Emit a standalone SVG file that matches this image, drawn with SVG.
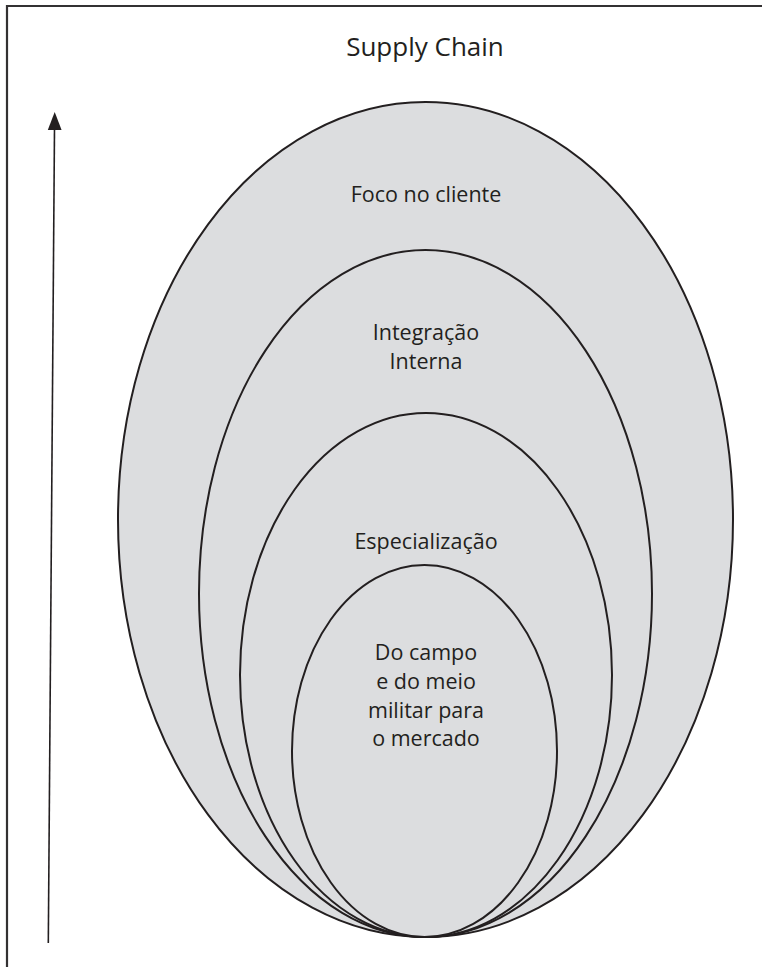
<svg xmlns="http://www.w3.org/2000/svg" width="762" height="967" viewBox="0 0 762 967">
<defs>
<style>
.frame{fill:none;stroke:#333132;stroke-width:2.2}
.ell{fill:#dcdddf;stroke:#231f20;stroke-width:2}
.lbl{font-family:"Open Sans","Liberation Sans",sans-serif;font-size:21.5px;fill:#231f20;text-anchor:middle}
.title{font-family:"Open Sans","Liberation Sans",sans-serif;font-size:26px;fill:#231f20;text-anchor:middle}
.arrow{stroke:#231f20;stroke-width:1.6;fill:none}
</style>
</defs>
<rect width="762" height="967" fill="#ffffff"/>
<path class="frame" d="M7,967 V6 H762"/>
<text class="title" x="425" y="56">Supply Chain</text>
<g id="connectors">
<line x1="48.3" y1="943" x2="54.5" y2="128" class="arrow"/>
<path d="M54.7,112 L47.8,130 L61.6,130 Z" fill="#231f20"/>
</g>
<g id="foco">
<ellipse class="ell" cx="425.5" cy="519.5" rx="307.5" ry="417.5"/>
<text class="lbl" x="426" y="202">Foco no cliente</text>
</g>
<g id="integracao">
<ellipse class="ell" cx="425.5" cy="593.5" rx="226.5" ry="343.5"/>
<text class="lbl" x="426" y="340">Integração</text>
<text class="lbl" x="426" y="369">Interna</text>
</g>
<g id="especializacao">
<ellipse class="ell" cx="426" cy="675" rx="186" ry="262"/>
<text class="lbl" x="426" y="549">Especialização</text>
</g>
<g id="campo">
<ellipse class="ell" cx="424.5" cy="751" rx="132.5" ry="186"/>
<text class="lbl" x="426" y="660">Do campo</text>
<text class="lbl" x="426" y="689">e do meio</text>
<text class="lbl" x="426" y="718">militar para</text>
<text class="lbl" x="426" y="746">o mercado</text>
</g>
</svg>
